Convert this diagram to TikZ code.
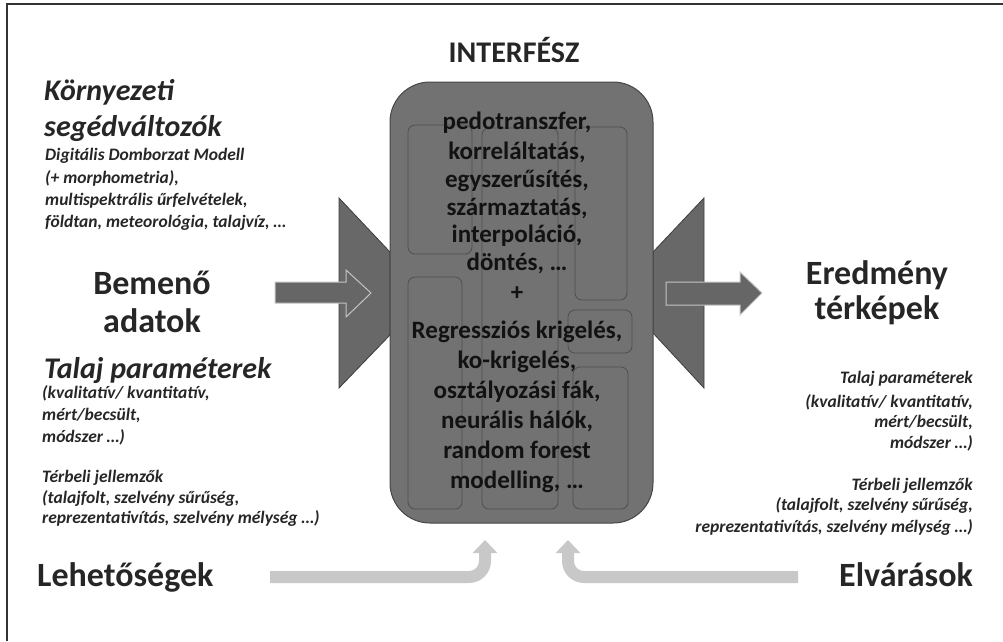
\documentclass[tikz,border=0pt]{standalone}
\usepackage{fontspec}
\setmainfont{Carlito}
\usetikzlibrary{arrows.meta,positioning}
\definecolor{boxgray}{RGB}{114,114,114}
\definecolor{boxline}{RGB}{70,70,70}
\definecolor{innerline}{RGB}{78,78,78}
\definecolor{funnelgray}{RGB}{104,104,104}
\definecolor{funnelline}{RGB}{60,60,60}
\definecolor{arrowgray}{RGB}{102,102,102}
\definecolor{arrowedge}{RGB}{196,196,196}
\definecolor{lightarrow}{RGB}{200,200,200}
\definecolor{txtgray}{RGB}{38,38,38}
\definecolor{coretxt}{RGB}{18,18,18}
\newcommand{\drawInnerBox}[4]{
    \draw[innerbox] (#1,#2) rectangle (#3,#4)
}
\tikzset{
    bigLabel/.style={font=\fontsize{34}{37}\selectfont\bfseries, text=txtgray, inner sep=0pt},
    headItal/.style={font=\fontsize{30}{36}\selectfont\bfseries\itshape, text=txtgray, inner sep=0pt, anchor=base west},
    smallItal/.style={font=\fontsize{17.5}{21}\selectfont\bfseries\itshape, text=txtgray, inner sep=0pt},
    coreText/.style={font=\fontsize{25}{28}\selectfont\bfseries, text=coretxt, inner sep=0pt, anchor=base},
    innerbox/.style={draw=innerline, line width=0.8pt, rounded corners=7pt},
    funnel/.style={draw=funnelline, fill=funnelgray, line width=0.8pt},
    blockarrow/.style={draw=arrowedge, fill=arrowgray, line width=1pt},
    sidearrow/.style={draw=lightarrow, line width=12pt, rounded corners=16pt, -{Triangle[length=13pt,width=24pt]}},
}

\begin{document}
\begin{tikzpicture}[x=1pt, y=-1pt]
            \useasboundingbox (0,0) rectangle (1003,641);
            \draw[line width=1.6pt, black!80] (7,641) -- (7,4) -- (1003,4);

            % funnels behind the interface box
            \draw[funnel] (339,198) -- (390,252) -- (390,335) -- (339,388) -- cycle;
            \draw[funnel] (704,198) -- (653,252) -- (653,333) -- (704,388) -- cycle;

            \node[draw=boxline, fill=boxgray, line width=1pt, rounded corners=40pt, minimum width=263pt, minimum height=441pt, inner sep=0pt] (iface) at (521.5,302.5) {};
            \node[bigLabel, font=\fontsize{30}{34}\selectfont\bfseries, anchor=base] (ifaceTitle) at (514,62) {INTERFÉSZ};

            \drawInnerBox{408}{125}{472}{254};
            \drawInnerBox{408}{277}{462}{509};
            \drawInnerBox{482}{128}{558}{509};
            \drawInnerBox{575}{127}{627}{300};
            \drawInnerBox{568}{310}{632}{353};
            \drawInnerBox{573}{367}{628}{509};

            \foreach \yy/\txt [count=\i] in {129/{pedotranszfer,}, 159/{korreláltatás,}, 187/{egyszerűsítés,}, 215/{származtatás,}, 242/{interpoláció,}, 270/{döntés, …}, 300/{+}}
                \node[coreText] (upper\i) at (517,\yy) {\txt};
            \foreach \yy/\txt [count=\i] in {338/{Regressziós krigelés,}, 368/{ko-krigelés,}, 398/{osztályozási fák,}, 428/{neurális hálók,}, 458/{random forest}, 488/{modelling, …}}
                \node[coreText] (lower\i) at (517,\yy) {\txt};

            % input side
            \draw[blockarrow] (275,282) -- (346,282) -- (346,270) -- (371,293) -- (346,317) -- (346,303) -- (275,303) -- cycle;
            \node[headItal] (envHead1) at (44,100) {Környezeti};
            \node[headItal] (envHead2) at (44,136) {segédváltozók};
            \foreach \yy/\txt [count=\i] in {160/{Digitális Domborzat Modell}, 183/{(+ morphometria),}, 205/{multispektrális űrfelvételek,}, 227/{földtan, meteorológia, talajvíz, …}}
                \node[smallItal, anchor=base west] (envItem\i) at (45,\yy) {\txt};
            \node[bigLabel, anchor=base] (inTop) at (152,294.5) {Bemenő};
            \node[bigLabel, anchor=base] (inBot) at (152,332.5) {adatok};
            \node[headItal] (soilHead) at (44,378) {Talaj paraméterek};
            \foreach \yy/\txt [count=\i] in {398/{(kvalitatív/ kvantitatív,}, 420/{mért/becsült,}, 442/{módszer …)}, 482/{Térbeli jellemzők}, 503/{(talajfolt, szelvény sűrűség,}, 523/{reprezentativítás, szelvény mélység …)}}
                \node[smallItal, anchor=base west] (soilItem\i) at (42,\yy) {\txt};

            % output side
            \draw[blockarrow] (666,282) -- (740,282) -- (740,272) -- (762,293) -- (740,315) -- (740,305) -- (666,305) -- cycle;
            \node[bigLabel, anchor=base] (outTop) at (877,284.5) {Eredmény};
            \node[bigLabel, anchor=base] (outBot) at (877,319.5) {térképek};
            \foreach \yy/\txt [count=\i] in {383/{Talaj paraméterek}, 407/{(kvalitatív/ kvantitatív,}, 427/{mért/becsült,}, 448/{módszer …)}, 490/{Térbeli jellemzők}, 510/{(talajfolt, szelvény sűrűség,}, 532/{reprezentativítás, szelvény mélység …)}}
                \node[smallItal, anchor=base east] (mapItem\i) at (973,\yy) {\txt};

            % bottom feeds
            \node[bigLabel, anchor=base west] (chances) at (37,586.5) {Lehetőségek};
            \node[bigLabel, anchor=base east] (demands) at (973,586.5) {Elvárások};
            \coordinate (chanceStart) at (270,577);
            \coordinate (chanceEnd) at (485,540);
            \coordinate (demandStart) at (798,577);
            \coordinate (demandEnd) at (568,540);
            \draw[sidearrow] (chanceStart) -| (chanceEnd);
            \draw[sidearrow] (demandStart) -| (demandEnd);

        \end{tikzpicture}
\end{document}
